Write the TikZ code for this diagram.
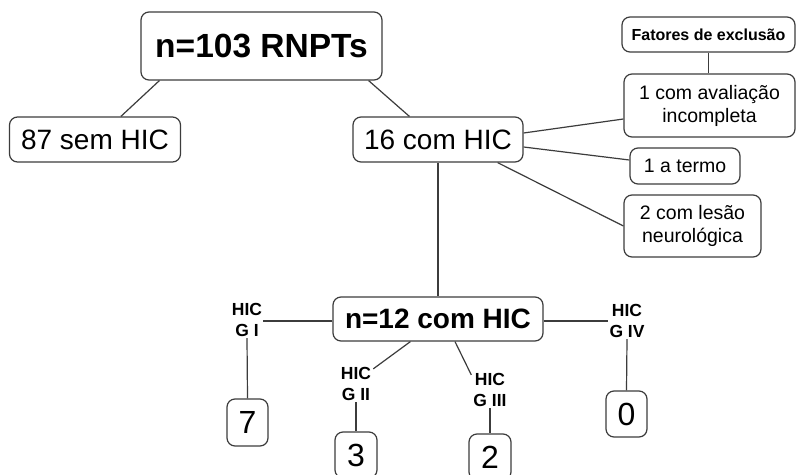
\documentclass[tikz,border=0pt]{standalone}
\usepackage{fontspec}
\setmainfont{Liberation Sans}
\usetikzlibrary{calc}
\definecolor{edge}{RGB}{60,60,60}
\begin{document}
\begin{tikzpicture}[x=1pt,y=-1pt,
  box/.style={draw=edge, line width=1.2pt, rounded corners=8pt, inner sep=0pt,
    align=center, text=black},
  big/.style={box, font=\fontsize{28}{30}\selectfont},
  small/.style={box, font=\fontsize{19.5}{23}\selectfont},
  digit/.style={box, font=\fontsize{32}{34}\selectfont},
  grade/.style={inner sep=1pt, align=center, font=\bfseries\fontsize{17.5}{21.5}\selectfont},
  link/.style={draw=edge, line width=1.2pt}]
\clip (0,0) rectangle (800,474);
\fill[white] (0,0) rectangle (800,474);

% main boxes
\node[box, font=\bfseries\fontsize{33.5}{36}\selectfont, minimum width=241pt, minimum height=68pt]
  (top) at (261.5,46) {n=103 RNPTs};
\node[big, minimum width=171pt, minimum height=45pt] (s87) at (95,139.5) {87 sem HIC};
\node[big, minimum width=170pt, minimum height=45pt] (c16) at (438,139.5) {16 com HIC};

% exclusion factors
\node[box, font=\bfseries\fontsize{16}{18}\selectfont, minimum width=173pt, minimum height=35pt]
  (fat) at (708.5,34.5) {Fatores de exclusão};
\node[small, minimum width=171pt, minimum height=63pt] (aval) at (709.5,105.5) {1 com avaliação\\incompleta};
\node[small, minimum width=110pt, minimum height=36pt] (termo) at (685,166) {1 a termo};
\node[small, minimum width=137pt, minimum height=62pt] (lesao) at (692.5,226) {2 com lesão\\neurológica};

% included group
\node[box, font=\bfseries\fontsize{28}{30}\selectfont, minimum width=210pt, minimum height=44pt]
  (n12) at (438,319) {n=12 com HIC};

% grade labels
\node[grade] (gI) at (247,320) {HIC\\G I};
\node[grade] (gII) at (356,384) {HIC\\G II};
\node[grade] (gIII) at (490,390) {HIC\\G III};
\node[grade] (gIV) at (627,321) {HIC\\G IV};

% counts per grade
\node[digit, minimum width=41pt, minimum height=47pt] (b7) at (247.5,422.5) {7};
\node[digit, minimum width=42pt, minimum height=46pt] (b3) at (356,455) {3};
\node[digit, minimum width=42pt, minimum height=46pt] (b2) at (490,457) {2};
\node[digit, minimum width=41pt, minimum height=46pt] (b0) at (626.5,414) {0};

% connectors
\draw[link] ([xshift=19pt]top.south west) -- ([xshift=112pt]s87.north west);
\draw[link] ([xshift=-14pt]top.south east) -- ([xshift=57pt]c16.north west);
\draw[link] ([yshift=6.5pt]c16.east) -- ([yshift=-13.5pt]aval.west);
\draw[link] ([yshift=-7.5pt]c16.east) -- ([yshift=6pt]termo.west);
\draw[link] ([xshift=-26pt]c16.south east) -- (lesao.west);
\draw[link] (fat.south) -- (fat.south |- aval.north);
\draw[link] (c16.south) -- (n12.north);
\draw[link] ([yshift=-2pt]n12.west) -- ([yshift=-2pt]n12.west -| gI.east);
\draw[link] ([yshift=-2pt]n12.east) -- ([yshift=-2pt]n12.east -| gIV.west);
\draw[link] ([xshift=78pt]n12.south west) -- ([xshift=1pt,yshift=-3pt]gII.north east);
\draw[link] ([xshift=17pt]n12.south) -- ([xshift=-1pt,yshift=-3pt]gIII.north west);
\draw[link] (gI.south) -- (b7.north);
\draw[link] (gII.south) -- (b3.north);
\draw[link] (gIII.south) -- (b2.north);
\draw[link] (gIV.south) -- (b0.north);
\end{tikzpicture}
\end{document}
